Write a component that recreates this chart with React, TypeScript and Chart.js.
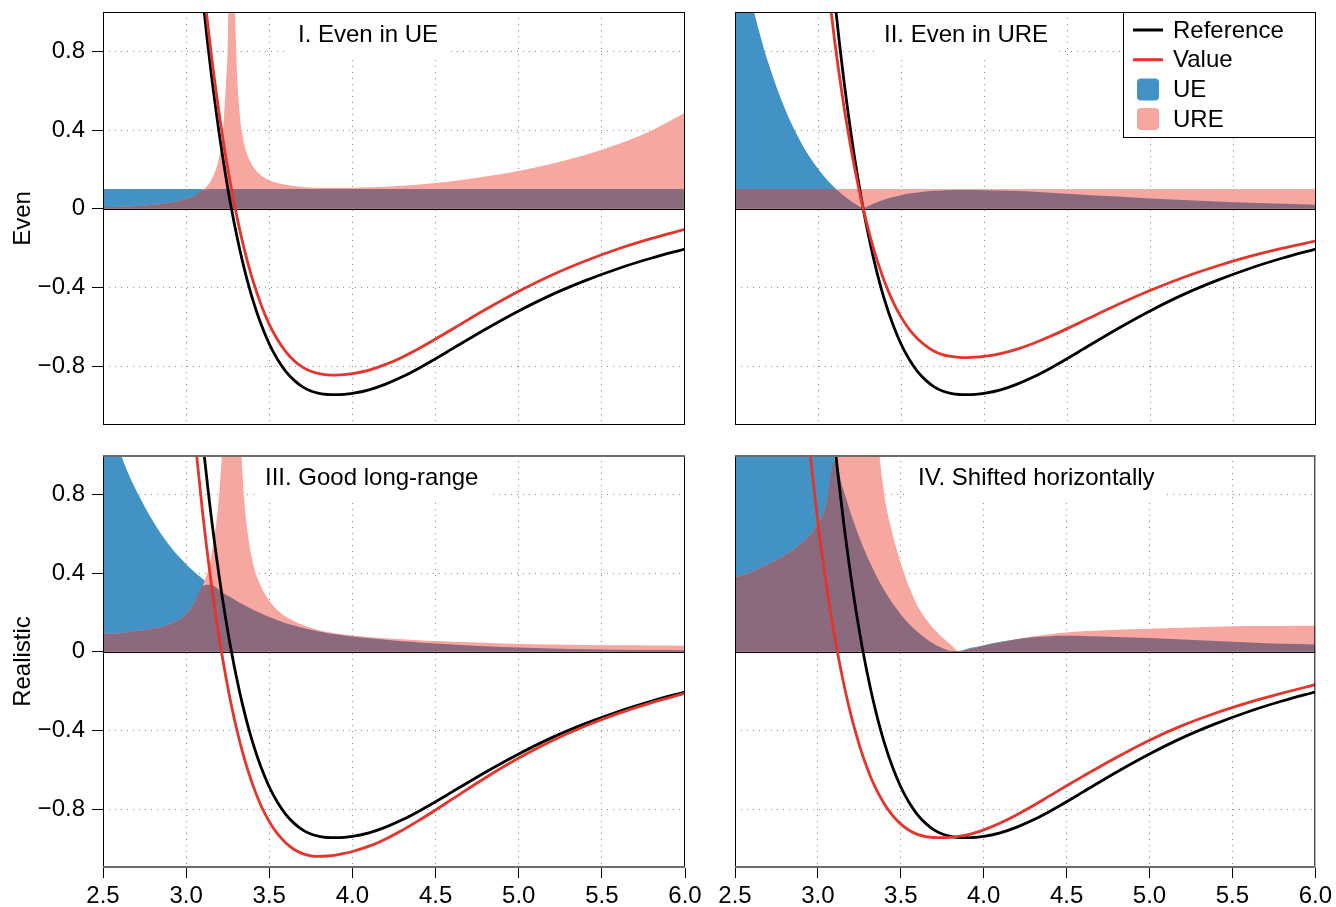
import React, { useEffect, useRef } from 'react';
import { Chart, registerables } from 'chart.js';

Chart.register(...registerables);

const FONT = "'Liberation Sans', Arial, Helvetica, sans-serif";

// ---------------- data ----------------
const X = [2.5, 2.55, 2.6, 2.65, 2.7, 2.8, 2.9, 3.0, 3.05, 3.1, 3.15, 3.2, 3.22, 3.24, 3.26, 3.27, 3.28, 3.29, 3.3, 3.32, 3.34, 3.36, 3.4, 3.45, 3.5, 3.55, 3.6, 3.65, 3.7, 3.75, 3.8, 3.85, 3.9, 3.95, 4.0, 4.1, 4.2, 4.3, 4.4, 4.5, 4.6, 4.8, 5.0, 5.2, 5.4, 5.6, 5.8, 6.0];

const REFERENCE = [14.59, 12.42, 10.52, 8.87, 7.43, 5.09, 3.33, 2.03, 1.51, 1.069, 0.693, 0.375, 0.262, 0.156, 0.057, 0.011, -0.034, -0.078, -0.119, -0.199, -0.272, -0.34, -0.461, -0.587, -0.688, -0.767, -0.828, -0.873, -0.906, -0.927, -0.939, -0.945, -0.946, -0.944, -0.939, -0.921, -0.892, -0.855, -0.811, -0.763, -0.713, -0.613, -0.52, -0.437, -0.366, -0.304, -0.251, -0.205];

// I. Even in UE
const VALUE_EVEN_UE = [14.69, 12.52, 10.62, 8.97, 7.53, 5.19, 3.43, 2.13, 1.61, 1.169, 0.793, 0.475, 0.362, 0.256, 0.157, 0.111, 0.066, 0.022, -0.019, -0.099, -0.172, -0.24, -0.361, -0.487, -0.588, -0.667, -0.728, -0.773, -0.806, -0.827, -0.839, -0.845, -0.846, -0.844, -0.839, -0.821, -0.792, -0.755, -0.711, -0.663, -0.613, -0.513, -0.42, -0.337, -0.266, -0.204, -0.151, -0.105];
const UE_EVEN_UE = [0.1, 0.1, 0.1, 0.1, 0.1, 0.1, 0.1, 0.1, 0.1, 0.1, 0.1, 0.1, 0.1, 0.1, 0.1, 0.1, 0.1, 0.1, 0.1, 0.1, 0.1, 0.1, 0.1, 0.1, 0.1, 0.1, 0.1, 0.1, 0.1, 0.1, 0.1, 0.1, 0.1, 0.1, 0.1, 0.1, 0.1, 0.1, 0.1, 0.1, 0.1, 0.1, 0.1, 0.1, 0.1, 0.1, 0.1, 0.1];
const URE_EVEN_UE = [0.0069, 0.0081, 0.0095, 0.0113, 0.0135, 0.0196, 0.03, 0.049, 0.066, 0.094, 0.144, 0.267, 0.382, 0.641, 1.75, 9.1, 2.94, 1.28, 0.84, 0.503, 0.368, 0.294, 0.217, 0.17, 0.145, 0.13, 0.121, 0.115, 0.11, 0.108, 0.106, 0.106, 0.106, 0.106, 0.106, 0.109, 0.112, 0.117, 0.123, 0.131, 0.14, 0.163, 0.192, 0.229, 0.273, 0.329, 0.398, 0.488];

// II. Even in URE
const VALUE_EVEN_URE = [11.67, 9.94, 8.42, 7.1, 5.94, 4.07, 2.66, 1.62, 1.21, 0.855, 0.554, 0.3, 0.21, 0.125, 0.046, 0.009, -0.027, -0.062, -0.095, -0.159, -0.218, -0.272, -0.369, -0.47, -0.55, -0.614, -0.662, -0.698, -0.725, -0.742, -0.751, -0.756, -0.757, -0.755, -0.751, -0.737, -0.714, -0.684, -0.649, -0.61, -0.57, -0.49, -0.416, -0.35, -0.293, -0.243, -0.201, -0.164];
const UE_EVEN_URE = [1.459, 1.242, 1.052, 0.887, 0.743, 0.509, 0.333, 0.203, 0.151, 0.107, 0.069, 0.0375, 0.0262, 0.0156, 0.0057, 0.0011, 0.0034, 0.0078, 0.0119, 0.0199, 0.0272, 0.034, 0.0461, 0.0587, 0.0688, 0.0767, 0.0828, 0.0873, 0.0906, 0.0927, 0.0939, 0.0945, 0.0946, 0.0944, 0.0939, 0.0921, 0.0892, 0.0855, 0.0811, 0.0763, 0.0713, 0.0613, 0.052, 0.0437, 0.0366, 0.0304, 0.0251, 0.0205];
const URE_EVEN_URE = [0.1, 0.1, 0.1, 0.1, 0.1, 0.1, 0.1, 0.1, 0.1, 0.1, 0.1, 0.1, 0.1, 0.1, 0.1, 0.1, 0.1, 0.1, 0.1, 0.1, 0.1, 0.1, 0.1, 0.1, 0.1, 0.1, 0.1, 0.1, 0.1, 0.1, 0.1, 0.1, 0.1, 0.1, 0.1, 0.1, 0.1, 0.1, 0.1, 0.1, 0.1, 0.1, 0.1, 0.1, 0.1, 0.1, 0.1, 0.1];

// III. Good long-range
const VALUE_LONG_RANGE = [13.29, 11.27, 9.5, 7.96, 6.61, 4.425, 2.79, 1.585, 1.105, 0.699, 0.353, 0.062, -0.038, -0.134, -0.223, -0.264, -0.304, -0.343, -0.379, -0.449, -0.513, -0.572, -0.676, -0.782, -0.864, -0.927, -0.973, -1.006, -1.027, -1.038, -1.041, -1.039, -1.034, -1.026, -1.016, -0.989, -0.952, -0.908, -0.858, -0.805, -0.75, -0.641, -0.541, -0.453, -0.378, -0.314, -0.259, -0.212];
const UE_LONG_RANGE = [1.3, 1.15, 1.02, 0.91, 0.82, 0.665, 0.54, 0.445, 0.405, 0.37, 0.34, 0.313, 0.3, 0.29, 0.28, 0.275, 0.27, 0.265, 0.26, 0.25, 0.241, 0.232, 0.215, 0.195, 0.176, 0.16, 0.145, 0.133, 0.121, 0.111, 0.102, 0.094, 0.088, 0.082, 0.077, 0.068, 0.06, 0.053, 0.047, 0.042, 0.037, 0.028, 0.021, 0.016, 0.012, 0.01, 0.008, 0.007];
const URE_LONG_RANGE = [0.09, 0.091, 0.094, 0.099, 0.105, 0.118, 0.14, 0.19, 0.25, 0.335, 0.48, 0.816, 1.11, 1.76, 4.3, 15, 10, 3.8, 2.32, 1.3, 0.89, 0.676, 0.457, 0.333, 0.259, 0.211, 0.177, 0.155, 0.136, 0.121, 0.109, 0.1, 0.093, 0.087, 0.082, 0.074, 0.068, 0.063, 0.058, 0.054, 0.051, 0.045, 0.039, 0.036, 0.034, 0.032, 0.031, 0.03];

// IV. Shifted horizontally
const VALUE_SHIFTED = [8.71, 7.29, 6.06, 4.99, 4.06, 2.57, 1.46, 0.659, 0.345, 0.081, -0.14, -0.324, -0.388, -0.447, -0.502, -0.527, -0.552, -0.575, -0.598, -0.641, -0.679, -0.713, -0.773, -0.833, -0.877, -0.908, -0.929, -0.94, -0.945, -0.946, -0.944, -0.939, -0.931, -0.92, -0.906, -0.871, -0.829, -0.782, -0.732, -0.682, -0.633, -0.538, -0.45, -0.375, -0.312, -0.258, -0.211, -0.168];
const UE_SHIFTED = [5.88, 5.13, 4.46, 3.88, 3.37, 2.52, 1.87, 1.371, 1.165, 0.988, 0.833, 0.699, 0.65, 0.603, 0.559, 0.538, 0.518, 0.497, 0.479, 0.442, 0.407, 0.373, 0.312, 0.246, 0.189, 0.141, 0.101, 0.067, 0.039, 0.019, 0.004, 0.003, 0.015, 0.024, 0.033, 0.05, 0.063, 0.073, 0.079, 0.081, 0.08, 0.075, 0.07, 0.062, 0.054, 0.046, 0.04, 0.037];
const URE_SHIFTED = [0.379, 0.39, 0.405, 0.425, 0.445, 0.49, 0.55, 0.65, 0.75, 0.97, 1.6, 3.5, 5, 9, 25, 60, 40, 7, 4.3, 2.3, 1.45, 1.12, 0.8, 0.6, 0.45, 0.33, 0.235, 0.168, 0.115, 0.073, 0.036, 0.003, 0.011, 0.02, 0.03, 0.047, 0.063, 0.078, 0.089, 0.098, 0.104, 0.112, 0.117, 0.122, 0.127, 0.13, 0.131, 0.132];

const X_TICKS = [2.5, 3.0, 3.5, 4.0, 4.5, 5.0, 5.5, 6.0];
const X_TICK_LABELS = ['2.5', '3.0', '3.5', '4.0', '4.5', '5.0', '5.5', '6.0'];
const Y_TICKS = [-0.8, -0.4, 0, 0.4, 0.8];
const Y_TICK_LABELS = ['\u22120.8', '\u22120.4', '0', '0.4', '0.8'];
const PANEL_TITLES = ['I. Even in UE', 'II. Even in URE', 'III. Good long-range', 'IV. Shifted horizontally'];
const ROW_LABELS = ['Even', 'Realistic'];
const LEGEND_LABELS = ['Reference', 'Value', 'UE', 'URE'];

// ---------------- styles ----------------
const C_REF = '#000000';
const C_VAL = '#e5342a';
const C_UE = '#4292c6';
const C_URE = '#f5a7a0';
const C_BOTH = '#8b6a7e';
const C_GRID = '#8a8a8a';

type PanelCfg = {
  left: number; top: number; width: number; height: number;
  padTop: number; padRight: number; yWidth: number; xHeight: number;
  showX: boolean; showY: boolean; rowLabel: string | null;
  title: string; titleLeft: number; legend: boolean;
  value: number[]; ue: number[]; ure: number[];
  edgeColor: string; edgeWidth: number;
};

const PANELS: PanelCfg[] = [
  { left: 0, top: 0, width: 700, height: 440, padTop: 12, padRight: 15, yWidth: 103, xHeight: 15, showX: false, showY: true, rowLabel: ROW_LABELS[0], title: PANEL_TITLES[0], titleLeft: 298, legend: false, value: VALUE_EVEN_UE, ue: UE_EVEN_UE, ure: URE_EVEN_UE, edgeColor: '#000', edgeWidth: 1 },
  { left: 700, top: 0, width: 636, height: 440, padTop: 12, padRight: 20, yWidth: 35, xHeight: 15, showX: false, showY: false, rowLabel: null, title: PANEL_TITLES[1], titleLeft: 184, legend: true, value: VALUE_EVEN_URE, ue: UE_EVEN_URE, ure: URE_EVEN_URE, edgeColor: '#000', edgeWidth: 1 },
  { left: 0, top: 440, width: 720, height: 467, padTop: 15, padRight: 35, yWidth: 103, xHeight: 39, showX: true, showY: true, rowLabel: ROW_LABELS[1], title: PANEL_TITLES[2], titleLeft: 265, legend: false, value: VALUE_LONG_RANGE, ue: UE_LONG_RANGE, ure: URE_LONG_RANGE, edgeColor: '#6e6e6e', edgeWidth: 2 },
  { left: 700, top: 440, width: 636, height: 467, padTop: 15, padRight: 20, yWidth: 35, xHeight: 39, showX: true, showY: false, rowLabel: null, title: PANEL_TITLES[3], titleLeft: 218, legend: false, value: VALUE_SHIFTED, ue: UE_SHIFTED, ure: URE_SHIFTED, edgeColor: '#6e6e6e', edgeWidth: 2 },
];

const pts = (ys: number[]) => X.map((x, i) => ({ x, y: ys[i] }));

function makeDecor(cfg: PanelCfg) {
  return {
    id: 'panelDecor',
    afterDatasetDraw(chart: any, args: any) {
      if (args.index !== 2) return;
      const { ctx, chartArea: a, scales } = chart;
      const y0 = Math.round(scales.y.getPixelForValue(0)) + 0.5;
      ctx.save();
      ctx.strokeStyle = '#000';
      ctx.lineWidth = 1.2;
      ctx.beginPath();
      ctx.moveTo(a.left, y0);
      ctx.lineTo(a.right, y0);
      ctx.stroke();
      ctx.restore();
    },
    afterDraw(chart: any) {
      const { ctx, chartArea: a } = chart;
      ctx.save();
      // panel title on a white box
      ctx.font = `24px ${FONT}`;
      const tw = ctx.measureText(cfg.title).width;
      ctx.fillStyle = '#fff';
      ctx.fillRect(cfg.titleLeft - 10, a.top + 1, tw + 21, 42);
      ctx.fillStyle = '#000';
      ctx.textAlign = 'left';
      ctx.textBaseline = 'alphabetic';
      ctx.fillText(cfg.title, cfg.titleLeft, a.top + 30);

      // legend
      if (cfg.legend) {
        const bw = 193;
        const bh = 126;
        const bx = a.right - bw;
        const by = a.top;
        ctx.fillStyle = '#fff';
        ctx.fillRect(bx, by, bw, bh);
        ctx.strokeStyle = '#000';
        ctx.lineWidth = 1;
        ctx.strokeRect(bx + 0.5, by + 0.5, bw - 1, bh - 1);
        const colors = [C_REF, C_VAL, C_UE, C_URE];
        LEGEND_LABELS.forEach((label, i) => {
          const cy = by + 18 + i * 29.7;
          if (i < 2) {
            ctx.strokeStyle = colors[i];
            ctx.lineWidth = 3;
            ctx.beginPath();
            ctx.moveTo(bx + 10, cy);
            ctx.lineTo(bx + 40, cy);
            ctx.stroke();
          } else {
            ctx.fillStyle = colors[i];
            ctx.beginPath();
            if (ctx.roundRect) ctx.roundRect(bx + 14, cy - 11, 22, 22, 4);
            else ctx.rect(bx + 14, cy - 11, 22, 22);
            ctx.fill();
          }
          ctx.fillStyle = '#000';
          ctx.font = `24px ${FONT}`;
          ctx.textBaseline = 'middle';
          ctx.textAlign = 'left';
          ctx.fillText(label, bx + 50, cy + 1);
        });
      }

      // frame
      ctx.strokeStyle = '#000';
      ctx.lineWidth = 1;
      ctx.beginPath();
      ctx.moveTo(a.left + 0.5, a.top);
      ctx.lineTo(a.left + 0.5, a.bottom);
      ctx.moveTo(a.right - 0.5, a.top);
      ctx.lineTo(a.right - 0.5, a.bottom);
      ctx.stroke();
      ctx.strokeStyle = cfg.edgeColor;
      ctx.lineWidth = cfg.edgeWidth;
      const off = cfg.edgeWidth / 2;
      ctx.beginPath();
      ctx.moveTo(a.left, a.top + off);
      ctx.lineTo(a.right, a.top + off);
      ctx.moveTo(a.left, a.bottom - off);
      ctx.lineTo(a.right, a.bottom - off);
      ctx.stroke();
      ctx.restore();
    },
  };
}

function Panel({ cfg }: { cfg: PanelCfg }) {
  const ref = useRef<HTMLCanvasElement>(null);
  useEffect(() => {
    const overlap = cfg.ue.map((v, i) => Math.min(v, cfg.ure[i]));
    const fillDs = (label: string, data: number[], color: string, order: number) => ({
      label,
      data: pts(data),
      borderColor: 'rgba(0,0,0,0)',
      borderWidth: 0,
      backgroundColor: color,
      fill: 'origin',
      pointRadius: 0,
      order,
      clip: 0,
    });
    const chart = new Chart(ref.current as HTMLCanvasElement, {
      type: 'line',
      data: {
        datasets: [
          { label: LEGEND_LABELS[1], data: pts(cfg.value), borderColor: C_VAL, borderWidth: 2.8, pointRadius: 0, fill: false, order: 0, clip: 0 },
          { label: LEGEND_LABELS[0], data: pts(REFERENCE), borderColor: C_REF, borderWidth: 2.8, pointRadius: 0, fill: false, order: 1, clip: 0 },
          fillDs('overlap', overlap, C_BOTH, 2),
          fillDs(LEGEND_LABELS[3], cfg.ure, C_URE, 3),
          fillDs(LEGEND_LABELS[2], cfg.ue, C_UE, 4),
        ] as any,
      },
      options: {
        responsive: false,
        animation: false,
        devicePixelRatio: 1,
        events: [],
        layout: { autoPadding: false, padding: { top: cfg.padTop, right: cfg.padRight, bottom: 0, left: 0 } },
        elements: {
          point: { radius: 0 },
          line: { cubicInterpolationMode: 'monotone', capBezierPoints: false, borderJoinStyle: 'round' },
        },
        plugins: { legend: { display: false }, tooltip: { enabled: false }, title: { display: false } },
        scales: {
          x: {
            type: 'linear',
            min: 2.5,
            max: 6.0,
            position: 'bottom',
            afterBuildTicks: (s: any) => { s.ticks = X_TICKS.map((v) => ({ value: v })); },
            afterFit: (s: any) => { s.height = cfg.xHeight; },
            ticks: {
              display: cfg.showX,
              autoSkip: false,
              maxRotation: 0,
              padding: 4,
              color: '#000',
              font: { size: 24, family: FONT },
              callback: (v: any) => X_TICK_LABELS[X_TICKS.indexOf(Number(v))],
            },
            grid: {
              color: (c: any) => (c.tick && (c.tick.value === 2.5 || c.tick.value === 6)) ? 'rgba(0,0,0,0)' : C_GRID,
              lineWidth: 1,
              drawTicks: cfg.showX,
              tickLength: 10,
              tickColor: '#000',
              tickWidth: 1,
            },
            border: { display: false, dash: [1, 5] },
          },
          y: {
            type: 'linear',
            min: -1.1,
            max: 1.0,
            afterBuildTicks: (s: any) => { s.ticks = Y_TICKS.map((v) => ({ value: v })); },
            afterFit: (s: any) => { s.width = cfg.yWidth; },
            ticks: {
              display: cfg.showY,
              padding: 7,
              color: '#000',
              font: { size: 24, family: FONT, lineHeight: 0.3 },
              callback: (v: any) => Y_TICK_LABELS[Y_TICKS.indexOf(Number(v))],
            },
            grid: {
              color: (c: any) => (c.tick && c.tick.value === 0) ? 'rgba(0,0,0,0)' : C_GRID,
              lineWidth: 1,
              drawTicks: cfg.showY,
              tickLength: 11,
              tickColor: '#000',
              tickWidth: 1,
            },
            border: { display: false, dash: [1, 5] },
            title: {
              display: !!cfg.rowLabel,
              text: cfg.rowLabel || '',
              color: '#000',
              font: { size: 24, family: FONT },
              padding: { top: 9, bottom: 0 },
            },
          },
        },
      } as any,
      plugins: [makeDecor(cfg)],
    });
    return () => chart.destroy();
  }, [cfg]);
  return (
    <canvas
      ref={ref}
      width={cfg.width}
      height={cfg.height}
      style={{ position: 'absolute', left: cfg.left, top: cfg.top, width: cfg.width, height: cfg.height }}
    />
  );
}

export default function App() {
  return (
    <div style={{ position: 'absolute', left: 0, top: 0, width: 1336, height: 907, background: '#fff' }}>
      {PANELS.map((p, i) => <Panel key={i} cfg={p} />)}
    </div>
  );
}
